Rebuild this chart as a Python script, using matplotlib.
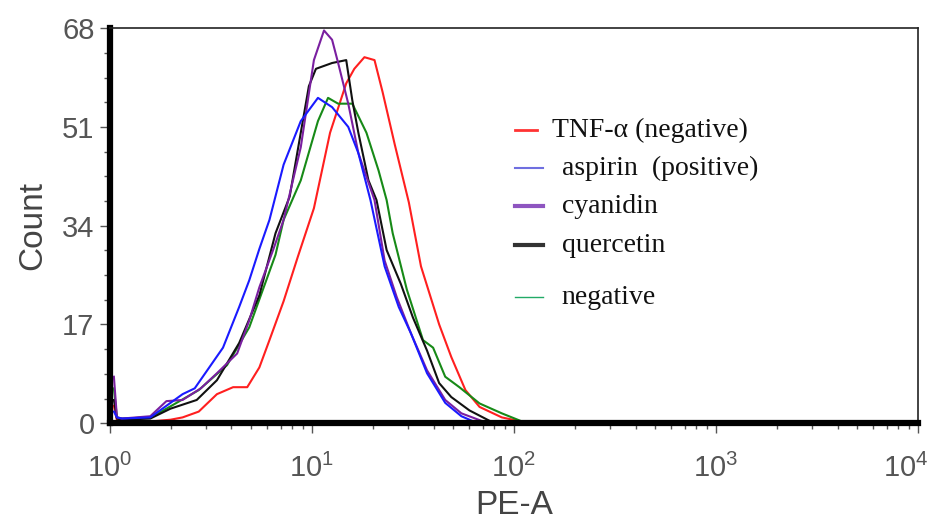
import numpy as np
import matplotlib
matplotlib.use("Agg")
import matplotlib.pyplot as plt
import matplotlib.transforms as mtrans
from matplotlib.ticker import LogLocator, MultipleLocator, NullFormatter

plt.rcParams["font.family"] = ["Liberation Sans", "DejaVu Sans"]

# values: position in decades of PE-A, and count
red_log = [0.02, 0.035, 0.06, 0.20, 0.30, 0.36, 0.44, 0.53, 0.61, 0.68, 0.74, 0.79, 0.86, 0.93, 1.01,
           1.09, 1.17, 1.21, 1.26, 1.31, 1.35, 1.41, 1.48, 1.54, 1.63, 1.69, 1.76, 1.83, 1.94, 2.05]
red_cnt = [3.0, 0.5, 0.3, 0.3, 0.6, 1.0, 2.0, 5.0, 6.2, 6.2, 9.6, 14.3, 21, 28.6, 37,
           50, 58.5, 61, 63, 62.5, 57, 48, 38, 27, 17, 11.4, 5.7, 2.8, 1.0, 0.2]

blue_log = [0.02, 0.035, 0.06, 0.20, 0.28, 0.36, 0.42, 0.49, 0.56, 0.64, 0.69, 0.74, 0.79, 0.86,
            0.945, 1.03, 1.10, 1.18, 1.23, 1.29, 1.36, 1.43, 1.49, 1.57, 1.66, 1.74, 1.80]
blue_cnt = [2.0, 1.0, 0.8, 1.0, 3.0, 5.0, 6.0, 9.5, 13, 20, 24.6, 30, 35, 44.5,
            52, 56, 54.4, 51, 46.5, 38.4, 27, 20, 15.5, 8.6, 3.5, 1.2, 0.3]

purple_log = [0.02, 0.035, 0.06, 0.20, 0.28, 0.36, 0.45, 0.53, 0.63, 0.69, 0.74, 0.81, 0.86, 0.945,
              1.01, 1.06, 1.10, 1.13, 1.18, 1.23, 1.31, 1.36, 1.42, 1.49, 1.57, 1.66, 1.74, 1.84]
purple_cnt = [8.0, 1.0, 0.8, 1.2, 3.8, 4.0, 6.0, 8.6, 12, 17.7, 23.4, 30, 35, 47.5,
              62.5, 67.6, 66, 62, 55, 46.5, 38.4, 28, 21.7, 15.5, 9.1, 4, 1.7, 0.4]

black_log = [0.02, 0.035, 0.06, 0.20, 0.30, 0.43, 0.53, 0.64, 0.74, 0.82, 0.89, 0.985, 1.02, 1.10,
             1.17, 1.20, 1.23, 1.28, 1.32, 1.37, 1.44, 1.50, 1.57, 1.63, 1.69, 1.78, 1.88]
black_cnt = [4.0, 0.8, 0.6, 0.8, 2.5, 4.0, 7.4, 13.8, 22, 32.7, 39, 58, 61, 62,
             62.5, 55.6, 50, 41.8, 38.4, 29.8, 24, 18.2, 12.5, 6.9, 4.5, 2.2, 0.4]

green_log = [0.02, 0.035, 0.06, 0.20, 0.28, 0.44, 0.58, 0.69, 0.82, 0.86, 0.945, 1.03, 1.08, 1.13,
             1.20, 1.27, 1.33, 1.37, 1.40, 1.47, 1.55, 1.60, 1.66, 1.73, 1.83, 1.94, 2.04]
green_cnt = [6.0, 1.0, 0.8, 1.0, 2.5, 5.7, 10, 16.5, 29, 35, 41.8, 52, 56, 55,
             55, 50, 43.5, 38.4, 32.7, 23, 14.3, 13, 8, 6.2, 3.4, 1.7, 0.3]

labels = ["TNF-\u03b1 (negative)", "aspirin  (positive)", "cyanidin", "quercetin", "negative"]
y_ticks = [0, 17, 34, 51, 68]

fig = plt.figure(figsize=(9.31, 5.31), dpi=100)
ax = fig.add_axes([0.118, 0.203, 0.868, 0.744])

ax.plot(10 ** np.array(red_log), red_cnt, color="#ff1f1f", lw=1.5)
ax.plot(10 ** np.array(green_log), green_cnt, color="#178a17", lw=1.5)
ax.plot(10 ** np.array(black_log), black_cnt, color="#111111", lw=1.5)
ax.plot(10 ** np.array(purple_log), purple_cnt, color="#7a1fa0", lw=1.5)
ax.plot(10 ** np.array(blue_log), blue_cnt, color="#1a1aff", lw=1.5)

ax.set_xscale("log")
ax.set_xlim(1, 1e4)
ax.set_ylim(0, 68)
ax.set_yticks(y_ticks)
ax.yaxis.set_minor_locator(MultipleLocator(4.25))
ax.xaxis.set_major_locator(LogLocator(base=10))
ax.xaxis.set_minor_locator(LogLocator(base=10, subs=np.arange(2, 10)))
ax.xaxis.set_minor_formatter(NullFormatter())

grey = "#555555"
ax.tick_params(which="major", direction="out", length=7, width=1, color=grey,
               labelsize=21, labelcolor=grey, pad=4)
ax.tick_params(which="minor", direction="out", length=4, width=1, color=grey)
ax.tick_params(axis="x", which="major", pad=15)

for side in ["left", "bottom"]:
    ax.spines[side].set_linewidth(4.5)
    ax.spines[side].set_color("black")
for side in ["top", "right"]:
    ax.spines[side].set_linewidth(1.2)
    ax.spines[side].set_color("#222222")

ax.set_ylabel("Count", fontsize=24, color="#444444", labelpad=10)
ax.set_xlabel("PE-A", fontsize=24, color="#444444", labelpad=5)

# pull the last x label inside the figure like the original
fig.canvas.draw()
for lab in ax.get_xticklabels():
    if "4" in lab.get_text():
        lab.set_transform(lab.get_transform() + mtrans.ScaledTranslation(-0.12, 0, fig.dpi_scale_trans))

# hand-placed legend like the original (serif text, uneven spacing)
leg_colors = ["#ff3333", "#6f6fe0", "#8e55c0", "#333333", "#22aa66"]
leg_widths = [2.0, 1.5, 3.0, 3.0, 1.0]
leg_y = [0.742, 0.646, 0.549, 0.45, 0.319]
leg_text_x = [0.547, 0.559, 0.559, 0.559, 0.559]
leg_line_end = [0.528, 0.536, 0.536, 0.536, 0.536]
for lab, c, w, yy, tx, le in zip(labels, leg_colors, leg_widths, leg_y, leg_text_x, leg_line_end):
    ax.plot([0.501, le], [yy, yy], color=c, lw=w, transform=ax.transAxes)
    ax.text(tx, yy, lab, transform=ax.transAxes, fontsize=20,
            family="Liberation Serif", color="#111111", va="center", ha="left")

fig.savefig("out.png", dpi=100)
